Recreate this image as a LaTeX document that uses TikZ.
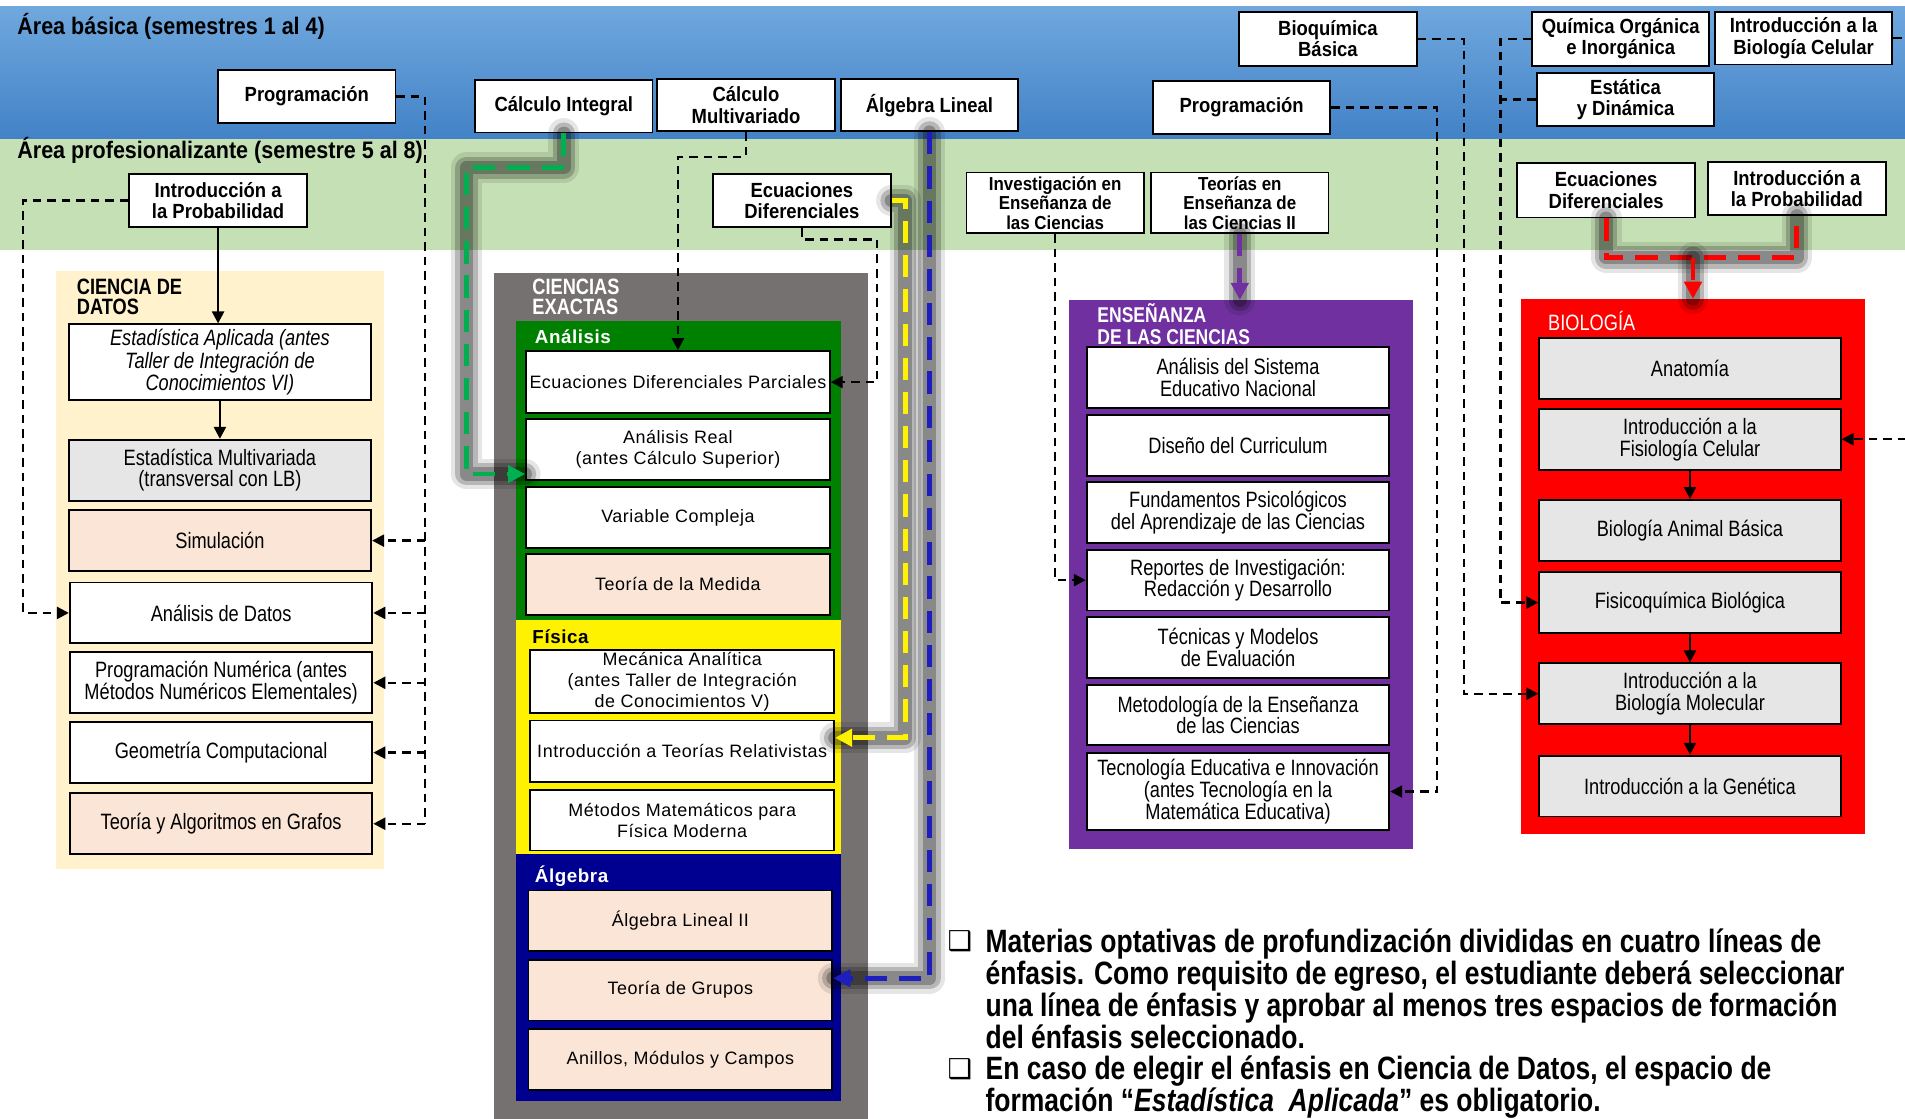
\documentclass[tikz,border=0pt]{standalone}
\usepackage{fontspec}
\setmainfont{Liberation Sans}[FakeStretch=0.82]
\newfontfamily\hd{Liberation Sans}[FakeStretch=0.9]
\newfontfamily\gothic{Liberation Sans}[LetterSpace=3]
\newfontfamily\dingfont{DejaVu Sans}
\usetikzlibrary{arrows.meta}
\definecolor{bandtop}{RGB}{112,168,222}
\definecolor{bandbot}{RGB}{66,130,198}
\definecolor{bandgreen}{RGB}{197,224,180}
\definecolor{cream}{RGB}{255,242,204}
\definecolor{peach}{RGB}{251,229,214}
\definecolor{lgray}{RGB}{231,230,230}
\definecolor{dgray}{RGB}{118,113,113}
\definecolor{dgreen}{RGB}{0,128,0}
\definecolor{navyb}{RGB}{0,0,144}
\definecolor{purp}{RGB}{112,48,160}
\definecolor{lgreen}{RGB}{0,176,80}
\definecolor{lblue}{RGB}{30,30,190}

\begin{document}
\begin{tikzpicture}[x=0.025cm, y=-0.025cm, >={Triangle[length=7pt,width=7pt]},
  hbox/.style={draw, fill=white, line width=1.1pt, minimum width=3.65cm, minimum height=1.08cm, inner sep=1pt, align=center, font=\hd\bfseries\fontsize{12}{12.5}\selectfont},
  box/.style={draw, line width=1.1pt, minimum width=6.225cm, minimum height=1.25cm, inner sep=1pt, align=center, font=\fontsize{13}{12.8}\selectfont},
  wbox/.style={box, fill=white},
  pbox/.style={box, fill=peach},
  gbox/.style={box, fill=lgray},
  xfont/.style={minimum width=6.25cm, font=\gothic\fontsize{10.5}{12.4}\selectfont},
  panel/.style={inner sep=0pt, outer sep=0pt},
  ttl/.style={anchor=west, inner sep=0pt, align=left, font=\bfseries\fontsize{13}{12}\selectfont},
  sttl/.style={anchor=west, inner sep=0pt, font=\gothic\bfseries\fontsize{11}{12}\selectfont},
  dl/.style={line width=1.4pt, dash pattern=on 5pt off 3.5pt},
  sl/.style={line width=1.4pt, ->},
  gl/.style={line width=2.8pt, dash pattern=on 13pt off 7pt, >={Triangle[length=10pt,width=10pt]},
    preaction={draw=black, opacity=.1, line width=18pt, solid, -, line cap=round, line join=round},
    preaction={draw=black, opacity=.2, line width=13pt, solid, -, line cap=round, line join=round},
    preaction={draw=black, opacity=.25, line width=8pt, solid, -, line cap=round, line join=round}}]

\useasboundingbox (0,0) rectangle (1568,921);
\shade[top color=bandtop, bottom color=bandbot] (0,5) rectangle (1568,114);
\fill[bandgreen] (0,114) rectangle (1568,206);
\node[anchor=west, inner sep=0pt, font=\hd\bfseries\fontsize{14}{16}\selectfont] (tb) at (14,22) {Área básica (semestres 1 al 4)};
\node[anchor=west, inner sep=0pt, font=\hd\bfseries\fontsize{14}{16}\selectfont] (tp) at (14,124) {Área profesionalizante (semestre 5 al 8)};

\node[panel, fill=cream, minimum width=6.75cm, minimum height=12.3cm] (cdd) at (181,469) {};
\node[panel, fill=dgray, minimum width=7.675cm, minimum height=17.4cm] (cex) at (560.5,573) {};
\node[panel, fill=dgreen, minimum width=6.675cm, minimum height=6.15cm] (ana) at (558.5,387) {};
\node[panel, fill=yellow, minimum width=6.675cm, minimum height=4.825cm] (fis) at (558.5,606.5) {};
\node[panel, fill=navyb, minimum width=6.675cm, minimum height=5.075cm] (alg) at (558.5,804.5) {};
\node[panel, fill=purp, minimum width=7.075cm, minimum height=11.3cm] (ens) at (1021.5,473) {};
\node[panel, fill=red, minimum width=7.075cm, minimum height=11cm] (bio) at (1393.5,466) {};

\node[ttl] (tcdd) at (63,244.5) {CIENCIA DE\\DATOS};
\node[ttl, text=white] (tcex) at (438,244.5) {CIENCIAS\\EXACTAS};
\node[sttl, text=white] (tana) at (440,277) {Análisis};
\node[sttl] (tfis) at (438,524) {Física};
\node[sttl, text=white] (talg) at (440,721) {Álgebra};
\node[ttl, text=white, font=\bfseries\fontsize{12.5}{12.8}\selectfont] (tens) at (903,267) {ENSEÑANZA\\DE LAS CIENCIAS};
\node[anchor=west, inner sep=0pt, text=white, font=\fontsize{13}{13}\selectfont] (tbio) at (1274,264) {BIOLOGÍA};

\node[hbox] (prog1) at (252.5,79.5) {Programación};
\node[hbox] (cint) at (464,87.5) {Cálculo Integral};
\node[hbox] (cmul) at (614,86.5) {Cálculo\\Multivariado};
\node[hbox] (alin) at (765,86.5) {Álgebra Lineal};
\node[hbox, minimum height=1.1cm] (bioq) at (1093,32) {Bioquímica\\Básica};
\node[hbox] (prog2) at (1022,88.5) {Programación};
\node[hbox, minimum height=1.1cm] (qoi) at (1334,32) {Química Orgánica\\e Inorgánica};
\node[hbox] (ibc) at (1484.5,31.5) {Introducción a la\\Biología Celular};
\node[hbox, minimum height=1.1cm] (eyd) at (1338,82) {Estática\\y Dinámica};
\node[hbox, minimum height=1.1cm] (ipro1) at (179.5,165) {Introducción a\\la Probabilidad};
\node[hbox, minimum height=1.1cm] (ecd1) at (660,165) {Ecuaciones\\Diferenciales};
\node[hbox, minimum height=1.25cm, font=\hd\bfseries\fontsize{11}{11.3}\selectfont] (iec) at (868.5,167) {Investigación en\\Enseñanza de\\las Ciencias};
\node[hbox, minimum height=1.25cm, font=\hd\bfseries\fontsize{11}{11.3}\selectfont] (tec) at (1020.5,167) {Teorías en\\Enseñanza de\\las Ciencias II};
\node[hbox, minimum height=1.125cm] (ecd2) at (1322,156.5) {Ecuaciones\\Diferenciales};
\node[hbox, minimum height=1.1cm] (ipro2) at (1479,155) {Introducción a\\la Probabilidad};

\node[wbox, minimum height=1.55cm, font=\itshape\fontsize{13}{12}\selectfont] (ea) at (181,298) {Estadística Aplicada (antes\\Taller de Integración de\\Conocimientos VI)};
\node[gbox] (em) at (181,387) {Estadística Multivariada\\(transversal con LB)};
\node[pbox] (sim) at (181,445) {Simulación};
\node[wbox] (ad) at (182,504.5) {Análisis de Datos};
\node[wbox] (pn) at (182,562) {Programación Numérica (antes\\Métodos Numéricos Elementales)};
\node[wbox] (gc) at (182,619.5) {Geometría Computacional};
\node[pbox] (tag) at (182,678) {Teoría y Algoritmos en Grafos};

\node[wbox, xfont, minimum height=1.275cm] (edp) at (558,314.5) {Ecuaciones Diferenciales Parciales};
\node[wbox, xfont] (ar) at (558,370) {Análisis Real\\(antes Cálculo Superior)};
\node[wbox, xfont] (vc) at (558,426) {Variable Compleja};
\node[pbox, xfont] (tm) at (558,481) {Teoría de la Medida};
\node[wbox, xfont, minimum height=1.3cm] (ma) at (561.5,561) {Mecánica Analítica\\(antes Taller de Integración\\de Conocimientos V)};
\node[wbox, xfont, minimum height=1.275cm] (itr) at (561.5,618.5) {Introducción a Teorías Relativistas};
\node[wbox, xfont] (mmf) at (561.5,675) {Métodos Matemáticos para\\Física Moderna};
\node[pbox, xfont] (al2) at (560,758) {Álgebra Lineal II};
\node[pbox, xfont] (tg) at (560,815) {Teoría de Grupos};
\node[pbox, xfont] (amc) at (560,872) {Anillos, Módulos y Campos};

\node[wbox] (asen) at (1019,310.5) {Análisis del Sistema\\Educativo Nacional};
\node[wbox] (dc) at (1019,366.5) {Diseño del Curriculum};
\node[wbox] (fp) at (1019,422) {Fundamentos Psicológicos\\del Aprendizaje de las Ciencias};
\node[wbox] (ri) at (1019,477.5) {Reportes de Investigación:\\Redacción y Desarrollo};
\node[wbox] (tme) at (1019,533) {Técnicas y Modelos\\de Evaluación};
\node[wbox] (me) at (1019,588.5) {Metodología de la Enseñanza\\de las Ciencias};
\node[wbox, minimum height=1.575cm] (tei) at (1019,651.5) {Tecnología Educativa e Innovación\\(antes Tecnología en la\\Matemática Educativa)};

\node[gbox, minimum width=6.2cm] (anat) at (1391,303.5) {Anatomía};
\node[gbox, minimum width=6.2cm] (ifc) at (1391,361.5) {Introducción a la\\Fisiología Celular};
\node[gbox, minimum width=6.2cm] (bab) at (1391,436.5) {Biología Animal Básica};
\node[gbox, minimum width=6.2cm] (fqb) at (1391,496) {Fisicoquímica Biológica};
\node[gbox, minimum width=6.2cm] (ibm) at (1391,571) {Introducción a la\\Biología Molecular};
\node[gbox, minimum width=6.2cm] (ig) at (1391,647) {Introducción a la Genética};

\coordinate (k1) at (19,0);
\coordinate (k2) at (350,0);
\coordinate (k3) at (0,129);
\coordinate (k4) at (722,197);
\coordinate (k5) at (384,138);
\coordinate (k6) at (745,165);
\coordinate (k7) at (1183,0);
\coordinate (k8) at (1205,0);
\coordinate (k9) at (1235,0);
\coordinate (k10) at (1590,0);
\coordinate (k11) at (0,212);

\draw[dl] (prog1.east) -| (tag.east -| k2);
\path[dl,->] (sim.east -| k2) edge (sim.east)
  (ad.east -| k2) edge (ad.east)
  (pn.east -| k2) edge (pn.east)
  (gc.east -| k2) edge (gc.east)
  (tag.east -| k2) edge (tag.east);
\draw[dl,->] (ipro1.west) -| (ad.west -| k1) -- (ad.west);
\draw[dl,->] (cmul.south) |- (edp.north |- k3) -- (edp.north);
\draw[dl,->] (ecd1.south) |- (k4) |- (edp.east);
\draw[dl,->] (iec.south) |- (ri.west);
\draw[dl,->] (prog2.east) -| (tei.east -| k7) -- (tei.east);
\draw[dl,->] (bioq.east) -| (ibm.west -| k8) -- (ibm.west);
\draw[dl,->] (qoi.west) -| (fqb.west -| k9) -- (fqb.west);
\draw[dl] (eyd.west) -- (eyd.west -| k9);
\draw[dl,->] (ibc.east) -| (ifc.east -| k10) -- (ifc.east);

\path[sl] (ipro1.south) edge (ipro1.south |- ea.north)
  (ea) edge (em)
  (ifc) edge (bab)
  (fqb) edge (ibm)
  (ibm) edge (ig);

\draw[gl, lgreen, ->] (cint.south) |- (k5) |- ([yshift=4pt]ar.south west);
\draw[gl, yellow, ->] (ecd1.east) -- (k6) |- ([yshift=8pt]itr.east);
\draw[gl, lblue, ->] (alin.south) |- ([yshift=7pt]tg.east);
\draw[gl, purp, ->] (tec.south) -- (tec.south |- ens.north);
\draw[gl, red] (ecd2.south) |- (ipro2.south |- k11) -- (ipro2.south);
\draw[gl, red, ->] (bio.north |- k11) -- (bio.north);

\node[inner sep=0pt, font=\dingfont\fontsize{16}{16}\selectfont] (bu1) at (790,775) {❑};
\node[inner sep=0pt, font=\dingfont\fontsize{16}{16}\selectfont] (bu2) at (790,880) {❑};
\node[anchor=north west, align=left, inner sep=0pt, font=\bfseries\fontsize{18.9}{18.7}\selectfont] (nt1) at (811,764) {Materias optativas de profundización divididas en cuatro líneas de\\énfasis. Como requisito de egreso, el estudiante deberá seleccionar\\una línea de énfasis y aprobar al menos tres espacios de formación\\del énfasis seleccionado.};
\node[anchor=north west, align=left, inner sep=0pt, font=\bfseries\fontsize{18.9}{18.7}\selectfont] (nt2) at (811,869) {En caso de elegir el énfasis en Ciencia de Datos, el espacio de\\formación “\textit{Estadística\ \ Aplicada}” es obligatorio.};
\end{tikzpicture}
\end{document}
